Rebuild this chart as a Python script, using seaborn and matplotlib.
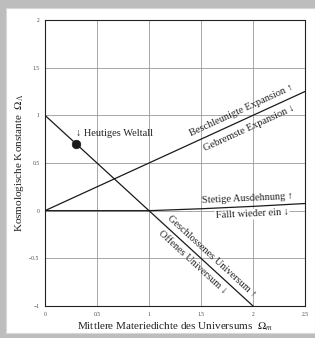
import matplotlib
matplotlib.use('Agg')
import matplotlib.pyplot as plt
import matplotlib.patches as mpatches
import pandas as pd
import seaborn as sns

# --- data ---
flat_m = [0, 2]
flat_l = [1, -1]
accel_m = [0, 2.5]
accel_l = [0, 1.25]
recollapse_m = [0, 1, 1.5, 2, 2.5]
recollapse_l = [0, 0, 0.02, 0.045, 0.075]
today_m = [0.3]
today_l = [0.7]
x_ticks = [0, 0.5, 1, 1.5, 2, 2.5]
x_tick_labels = ["0", "0.5", "1", "1.5", "2", "2.5"]
y_ticks = [-1, -0.5, 0, 0.5, 1, 1.5, 2]
y_tick_labels = ["\u22121", "\u22120.5", "0", "0.5", "1", "1.5", "2"]

sns.set_theme(style="whitegrid")
plt.rcParams['font.family'] = ['Liberation Serif', 'DejaVu Serif']
plt.rcParams['mathtext.fontset'] = 'stix'

fig = plt.figure(figsize=(3.15, 3.38), dpi=100)
fig.patch.set_facecolor('#bdbdbd')
fig.patches.append(mpatches.Rectangle((6 / 315, 5 / 338), 1 - 6 / 315, 325 / 338,
                                      transform=fig.transFigure, facecolor='white',
                                      edgecolor='#d8d8d8', linewidth=0.8, zorder=-10))
ax = fig.add_axes([45 / 315, 32 / 338, 260 / 315, 286 / 338])
ax.set_zorder(1)
ax.set_facecolor('white')

lines = {
    "flat": (flat_m, flat_l),
    "accel": (accel_m, accel_l),
    "recollapse": (recollapse_m, recollapse_l),
}
for name, (m, l) in lines.items():
    df = pd.DataFrame({"m": m, "l": l})
    sns.lineplot(data=df, x="m", y="l", ax=ax, color="#1a1a1a", linewidth=0.9,
                 sort=False, estimator=None, zorder=3)

sns.scatterplot(x=today_m, y=today_l, ax=ax, color="#1a1a1a", s=38,
                edgecolor="#1a1a1a", zorder=4)

ax.set_xlim(0, 2.5)
ax.set_ylim(-1, 2)
ax.set_xticks(x_ticks)
ax.set_xticklabels(x_tick_labels)
ax.set_yticks(y_ticks)
ax.set_yticklabels(y_tick_labels)
ax.tick_params(labelsize=4, colors='#444444', length=0, pad=4)
ax.grid(True, color='#9a9a9a', linewidth=0.6)
for sp in ax.spines.values():
    sp.set_color('#222222')
    sp.set_linewidth(0.8)

ax.set_xlabel("Mittlere Materiedichte des Universums  $\\Omega_m$", fontsize=8,
              color='#222222', labelpad=3)
ax.set_ylabel("Kosmologische Konstante  $\\Omega_\\Lambda$", fontsize=8,
              color='#222222', labelpad=2)

txt = dict(fontsize=7.5, color='#222222', rotation_mode='anchor',
           textcoords='offset points', zorder=5)

ax.annotate("\u2193 Heutiges Weltall", xy=(0.3, 0.81), xytext=(0, 0),
            ha='left', va='center', **txt)

# deceleration boundary labels
ax.annotate("Beschleunigte Expansion \u2191", xy=(1.92, 0.96), xytext=(-1.3, 3.0),
            ha='center', va='bottom', rotation=24.6, **txt)
ax.annotate("Gebremste Expansion \u2193", xy=(1.92, 0.96), xytext=(1.6, -3.6),
            ha='center', va='top', rotation=24.6, **txt)

# recollapse boundary labels
ax.annotate("Stetige Ausdehnung \u2191", xy=(1.95, 0.047), xytext=(0, 2.5),
            ha='center', va='bottom', rotation=2.6, **txt)
ax.annotate("Fällt wieder ein \u2193", xy=(1.99, 0.047), xytext=(0, -2.5),
            ha='center', va='top', rotation=2.6,
            bbox=dict(facecolor='white', edgecolor='none', pad=0.5), **txt)

# flat universe labels
ax.annotate("Geschlossenes Universum \u2191", xy=(1.546, -0.546), xytext=(2.0, 2.2),
            ha='center', va='bottom', rotation=-42.5, **txt)
ax.annotate("Offenes Universum \u2193", xy=(1.476, -0.476), xytext=(-2.2, -2.4),
            ha='center', va='top', rotation=-42.5, **txt)

fig.savefig("out.png", dpi=100, facecolor=fig.get_facecolor())
plt.close(fig)
